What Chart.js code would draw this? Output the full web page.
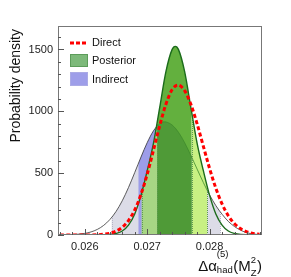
<!DOCTYPE html>
<html>
<head>
<meta charset="utf-8">
<script src="https://cdn.jsdelivr.net/npm/chart.js@4.4.1/dist/chart.umd.min.js"></script>
<style>
  html, body { margin: 0; padding: 0; background: #fff; }
  #wrap { width: 291px; height: 277px; }
</style>
</head>
<body>
<div id="wrap"><canvas id="c" width="291" height="277"></canvas></div>
<script>
/* probability densities */
const directX = [0.0256, 0.0260, 0.0262, 0.0263, 0.0264, 0.0265, 0.0266, 0.0267, 0.0268, 0.0269, 0.0270, 0.0271, 0.0272, 0.0273, 0.0274, 0.02749, 0.0276, 0.0277, 0.0278, 0.0279, 0.0280, 0.0281, 0.0282, 0.0283, 0.0284, 0.0285, 0.0286, 0.0287, 0.0288];
const directY = [0, 0, 2, 6, 14, 31, 62, 117, 203, 328, 492, 685, 884, 1058, 1176, 1212, 1167, 1056, 898, 717, 538, 379, 251, 156, 91, 50, 26, 12, 6];

const posteriorX = [0.0256, 0.0262, 0.0264, 0.0265, 0.0266, 0.0267, 0.0268, 0.0269, 0.0270, 0.0271, 0.0272, 0.0273, 0.0274, 0.02745, 0.0275, 0.0276, 0.0277, 0.0278, 0.0279, 0.0280, 0.0281, 0.0282, 0.0283, 0.0284, 0.0285, 0.0287, 0.0288];
const posteriorY = [0, 0, 4, 12, 32, 80, 170, 320, 520, 740, 1030, 1321, 1501, 1525, 1501, 1321, 1030, 740, 520, 320, 170, 80, 32, 12, 4, 0, 0];

const indirectX = [0.0256, 0.0257, 0.0258, 0.0259, 0.0260, 0.0261, 0.0262, 0.0263, 0.0264, 0.0265, 0.0266, 0.0267, 0.0268, 0.0269, 0.0270, 0.0271, 0.0272, 0.02728, 0.0273, 0.0274, 0.0275, 0.0276, 0.0277, 0.0278, 0.0279, 0.0280, 0.0281, 0.0282, 0.0283, 0.0284, 0.0285, 0.0286, 0.0287, 0.0288];
const indirectY = [1, 1, 3, 7, 13, 25, 45, 77, 124, 190, 277, 384, 505, 630, 747, 842, 900, 915, 914, 889, 831, 746, 643, 533, 424, 324, 238, 168, 110, 68, 38, 18, 8, 3];

/* shaded probability bands (x ranges) */
const postBand68 = [0.02716, 0.02771];
const postBand95 = [0.02691, 0.02796];
const indBand68 = [0.02686, 0.02775];
const indBand95 = [0.02643, 0.02817];

const xTicks = [0.026, 0.027, 0.028];
const yTicks = [0, 500, 1000, 1500];
const legendItems = ['Direct', 'Posterior', 'Indirect'];

const FONT = '"Liberation Sans", Arial, sans-serif';
const pts = (xs, ys) => xs.map((x, i) => ({ x, y: ys[i] }));

const bands = {
  id: 'bands',
  beforeDatasetsDraw(chart) {
    const ctx = chart.ctx, a = chart.chartArea, xs = chart.scales.x, ys = chart.scales.y;
    const base = ys.getPixelForValue(0);
    const post = chart.getDatasetMeta(1).dataset;
    const ind = chart.getDatasetMeta(2).dataset;
    const region = line => {
      ctx.beginPath(); line.path(ctx);
      const p = line.points;
      ctx.lineTo(p[p.length - 1].x, base); ctx.lineTo(p[0].x, base); ctx.closePath();
    };
    const clipX = band => {
      const l = xs.getPixelForValue(band[0]), r = xs.getPixelForValue(band[1]);
      ctx.beginPath(); ctx.rect(l, a.top, r - l, a.bottom - a.top); ctx.clip();
    };
    const fillBand = (line, band, color, inside) => {
      ctx.save(); clipX(band);
      if (inside) { region(inside); ctx.clip(); }
      region(line); ctx.fillStyle = color; ctx.fill();
      ctx.restore();
    };
    const edges = (line, band, color) => {
      ctx.save(); region(line); ctx.clip();
      ctx.strokeStyle = color; ctx.lineWidth = 1; ctx.setLineDash([1, 1]);
      band.forEach(v => {
        const x = Math.round(xs.getPixelForValue(v)) + 0.5;
        ctx.beginPath(); ctx.moveTo(x, a.top); ctx.lineTo(x, base); ctx.stroke();
      });
      ctx.restore();
    };

    ctx.save();
    ctx.beginPath(); ctx.rect(a.left, a.top, a.right - a.left, a.bottom - a.top); ctx.clip();

    fillBand(ind, indBand95, '#dcdce7');
    fillBand(ind, indBand68, '#9d9de9');
    edges(ind, indBand95, '#b4b4c4');
    ctx.beginPath(); ind.path(ctx);
    ctx.strokeStyle = '#333'; ctx.lineWidth = 0.8; ctx.stroke();

    fillBand(post, [postBand95[0], postBand68[0]], '#a7d684');
    fillBand(post, [postBand68[1], postBand95[1]], '#c8f083');
    fillBand(post, postBand68, '#63b03e');
    fillBand(ind, postBand68, '#4f9a37', post);
    ctx.save(); clipX([postBand68[0], postBand95[1]]); region(post); ctx.clip();
    ctx.beginPath(); ind.path(ctx);
    ctx.strokeStyle = '#3f8a2c'; ctx.lineWidth = 0.8; ctx.stroke();
    ctx.restore();
    edges(post, [postBand95[0], postBand68[0], postBand68[1], postBand95[1]], '#5e9a52');

    ctx.restore();
  },
  afterDraw(chart) {
    const ctx = chart.ctx, a = chart.chartArea, xs = chart.scales.x, ys = chart.scales.y;
    ctx.save();
    // frame
    ctx.strokeStyle = '#777'; ctx.lineWidth = 1;
    ctx.strokeRect(a.left + 0.5, a.top + 0.5, a.right - a.left - 1, a.bottom - a.top - 1);
    // inward ticks
    ctx.strokeStyle = '#555';
    for (let v = 0; v <= ys.max; v += 100) {
      const y = Math.round(ys.getPixelForValue(v)) + 0.5;
      const len = v % 500 === 0 ? 6 : 3;
      ctx.beginPath(); ctx.moveTo(a.left, y); ctx.lineTo(a.left + len, y); ctx.stroke();
    }
    for (let k = 0; k < 40; k++) {
      const v = 0.0256 + k * 0.0002;
      if (v < xs.min || v > xs.max) continue;
      const x = Math.round(xs.getPixelForValue(v)) + 0.5;
      const major = Math.abs(v * 1000 - Math.round(v * 1000)) < 1e-6;
      ctx.beginPath(); ctx.moveTo(x, a.bottom); ctx.lineTo(x, a.bottom - (major ? 6 : 3)); ctx.stroke();
    }

    // legend
    ctx.fillStyle = '#111'; ctx.font = '11px ' + FONT; ctx.textBaseline = 'middle'; ctx.textAlign = 'left';
    ctx.strokeStyle = '#ff0000'; ctx.lineWidth = 3; ctx.setLineDash([4, 2]);
    ctx.beginPath(); ctx.moveTo(70, 43); ctx.lineTo(88, 43); ctx.stroke();
    ctx.setLineDash([1, 1]); ctx.lineWidth = 1;
    ctx.fillStyle = '#7db97a'; ctx.fillRect(70, 54, 18, 13);
    ctx.strokeStyle = '#3d7f3a'; ctx.strokeRect(70.5, 54.5, 17, 12);
    ctx.fillStyle = '#9e9ee9'; ctx.fillRect(70, 72, 18, 14);
    ctx.strokeStyle = '#b9b9e0'; ctx.strokeRect(70.5, 72.5, 17, 13);
    ctx.setLineDash([]);
    ctx.fillStyle = '#111';
    ctx.fillText(legendItems[0], 92, 43);
    ctx.fillText(legendItems[1], 92, 61);
    ctx.fillText(legendItems[2], 92, 80);

    // y title
    ctx.save();
    ctx.translate(19.5, 29); ctx.rotate(-Math.PI / 2);
    ctx.font = '14px ' + FONT; ctx.textAlign = 'right'; ctx.textBaseline = 'alphabetic';
    ctx.fillText('Probability density', 0, 0);
    ctx.restore();

    // x title: Δα_had^(5)(M_Z^2)
    const big = '15px ' + FONT, small = '9.5px ' + FONT;
    ctx.textBaseline = 'alphabetic'; ctx.textAlign = 'left';
    const w = (t, f) => { ctx.font = f; return ctx.measureText(t).width; };
    const parts = [
      { main: 'Δα' }, { sup: '(5)', sub: 'had' }, { main: '(M' }, { sup: '2', sub: 'Z' }, { main: ')' }
    ];
    const widths = parts.map(p => p.main ? w(p.main, big) : Math.max(w(p.sup, small), w(p.sub, small)) + 0.5);
    let x = 262 - widths.reduce((s, v) => s + v, 0);
    const yb = 271;
    parts.forEach((p, i) => {
      if (p.main) { ctx.font = big; ctx.fillText(p.main, x, yb); }
      else {
        ctx.font = small;
        ctx.fillText(p.sup, x, yb - 14.5 + (p.sup === '2' ? 6 : 0));
        ctx.fillText(p.sub, x, yb + (p.sub === 'Z' ? 5 : 2));
      }
      x += widths[i];
    });
    ctx.restore();
  }
};

new Chart(document.getElementById('c'), {
  type: 'line',
  data: {
    datasets: [
      { label: 'Direct', data: pts(directX, directY), borderColor: '#ff0000', borderWidth: 3, borderDash: [4, 2.5],
        pointRadius: 0, fill: false, cubicInterpolationMode: 'monotone' },
      { label: 'Posterior', data: pts(posteriorX, posteriorY), borderColor: '#1b6b1b', borderWidth: 1.4,
        pointRadius: 0, fill: false, cubicInterpolationMode: 'monotone' },
      { label: 'Indirect', data: pts(indirectX, indirectY), borderColor: 'rgba(0,0,0,0)', borderWidth: 0,
        pointRadius: 0, fill: false, cubicInterpolationMode: 'monotone' }
    ]
  },
  options: {
    responsive: false, devicePixelRatio: 1, animation: false,
    layout: { padding: { top: 26, right: 29, left: 0, bottom: 0 } },
    plugins: { legend: { display: false }, tooltip: { enabled: false } },
    scales: {
      x: {
        type: 'linear', min: 0.02557, max: 0.02884,
        afterBuildTicks: s => { s.ticks = xTicks.map(v => ({ value: v })); },
        afterFit: s => { s.height = 42; },
        grid: { display: false, drawTicks: false }, border: { display: false },
        ticks: { padding: 5, color: '#222', font: { family: FONT, size: 11 }, maxRotation: 0,
          callback: v => v.toFixed(3) }
      },
      y: {
        min: 0, max: 1690,
        afterBuildTicks: s => { s.ticks = yTicks.map(v => ({ value: v })); },
        afterFit: s => { s.width = 58; },
        grid: { display: false, drawTicks: false }, border: { display: false },
        ticks: { padding: 5, color: '#222', font: { family: FONT, size: 11 }, callback: v => String(v) }
      }
    }
  },
  plugins: [bands]
});
</script>
</body>
</html>
